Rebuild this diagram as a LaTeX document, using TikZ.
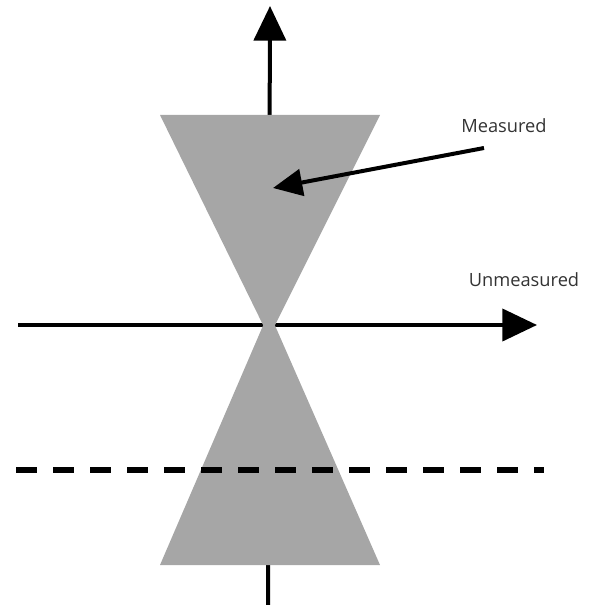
\documentclass[tikz,border=0pt]{standalone}
\usepackage{fontspec}
\setmainfont{Open Sans}
\usepackage{xcolor}
\usetikzlibrary{arrows.meta, positioning}
\definecolor{conegray}{RGB}{166,166,166}

\begin{document}
\begin{tikzpicture}[x=0.75pt,y=-0.75pt,font=\fontsize{13.7}{16}\selectfont,
  axis/.style={line width=3pt,-{Triangle[length=26pt,width=24pt]}},
  cone/.style={fill=conegray},
  pointer/.style={line width=3pt,-{Triangle[length=22pt,width=20pt]}}]
  \useasboundingbox (0,0) rectangle (602,605);
  % axes
  \coordinate (vbot) at (268,605);
  \coordinate (vtop) at (270,6);
  \coordinate (hleft) at (18,325);
  \coordinate (hright) at (537,325);
  \draw[axis] (vbot) -- (vtop);
  \draw[axis] (hleft) -- (hright);
  % light cones
  \fill[cone] (160,115) -- (380,115) -- (273,329) -- (265,329) -- cycle;
  \fill[cone] (160,565) -- (380,565) -- (273,321) -- (265,321) -- cycle;
  % dashed slice
  \coordinate (dleft) at (16,470);
  \coordinate (dright) at (544,470);
  \draw[line width=5pt,dash pattern=on 15.75pt off 12pt] (dleft) -- (dright);
  % labels
  \node[text=black!80] (meas) at (504,126) {Measured};
  \node[text=black!80] (unmeas) at (524,280) {Unmeasured};
  \coordinate (mtail) at (484,148);
  \coordinate (mtip) at (273,188);
  \draw[pointer] (mtail) -- (mtip);
\end{tikzpicture}
\end{document}
